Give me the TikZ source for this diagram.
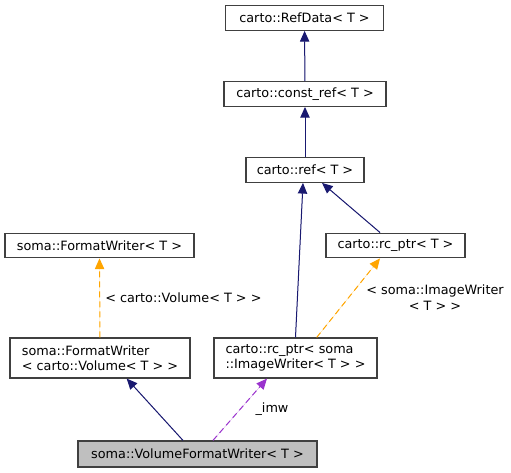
\documentclass[tikz,border=0pt]{standalone}
\usepackage{fontspec}
\setmainfont{DejaVu Sans}
\usetikzlibrary{arrows.meta,positioning,calc}
\definecolor{inhblue}{HTML}{191970}
\definecolor{tplorange}{HTML}{FFA500}
\definecolor{usepurple}{HTML}{9A32CD}
\definecolor{boxgray}{HTML}{BFBFBF}
\tikzset{
  dgarr/.style={-{Triangle[length=8pt,width=7pt]}, line width=0.75pt},
  dgnode/.style={draw=black!75, line width=0.9pt, inner sep=0pt, align=left},
  dglabel/.style={inner sep=0pt, align=center},
}
\begin{document}
\begin{tikzpicture}[
  x=0.75pt, y=-0.75pt,
  font=\fontsize{9.6}{11.5}\selectfont,
  cls/.style={dgnode, minimum height=18.5pt},
  cls2/.style={dgnode, minimum height=30pt},
  inh/.style={dgarr, draw=inhblue, fill=inhblue},
  tpl/.style={dgarr, draw=tplorange, fill=tplorange, dash pattern=on 4.5pt off 3pt},
  mem/.style={dgarr, draw=usepurple, fill=usepurple, dash pattern=on 4.5pt off 3pt},
]
  \useasboundingbox (0,0) rectangle (511,473);
  \node[cls, minimum width=118pt] (rd) at (304.5,18) {carto::RefData< T >};
  \node[cls, minimum width=121.5pt] (cref) at (305,94) {carto::const\_ref< T >};
  \node[cls, minimum width=88.5pt] (ref) at (305,170) {carto::ref< T >};
  \node[cls, minimum width=141.75pt] (fwt) at (99.5,245.5) {soma::FormatWriter< T >};
  \node[cls, minimum width=104.25pt] (rcptr) at (395.5,245.5) {carto::rc\_ptr< T >};
  \node[cls2, minimum width=135pt] (fwvol) at (100,358) {soma::FormatWriter\\< carto::Volume< T > >};
  \node[cls2, minimum width=122.25pt] (rcimw) at (295.5,358) {carto::rc\_ptr< soma\\::ImageWriter< T > >};
  \node[cls, fill=boxgray, minimum width=179.25pt, minimum height=19.5pt] (vfw) at (197.5,454) {soma::VolumeFormatWriter< T >};

  \node[dglabel, anchor=west] (lvol) at (105,298) {< carto::Volume< T > >};
  \node[dglabel] (limw) at (435,297.5) {< soma::ImageWriter\\< T > >};
  \node[dglabel] (lmem) at (272,409) {\_imw};

  \foreach \a/\b in {cref/rd,ref/cref}
    \draw[inh] (\a) -- (\b);
  \draw[inh] (rcimw.north) -- ([xshift=-1.5pt]ref.south);
  \draw[inh] ([xshift=-11.6pt]rcptr.north) -- ([xshift=12.75pt]ref.south);
  \draw[inh] ([xshift=-10.9pt]vfw.north) -- ([xshift=20pt]fwvol.south);
  \draw[tpl] (fwvol.north) -- (fwt.south);
  \draw[tpl] ([xshift=15.9pt]rcimw.north) -- ([xshift=-11.6pt]rcptr.south);
  \draw[mem] ([xshift=11.6pt]vfw.north) -- ([xshift=-21.4pt]rcimw.south);
\end{tikzpicture}
\end{document}
